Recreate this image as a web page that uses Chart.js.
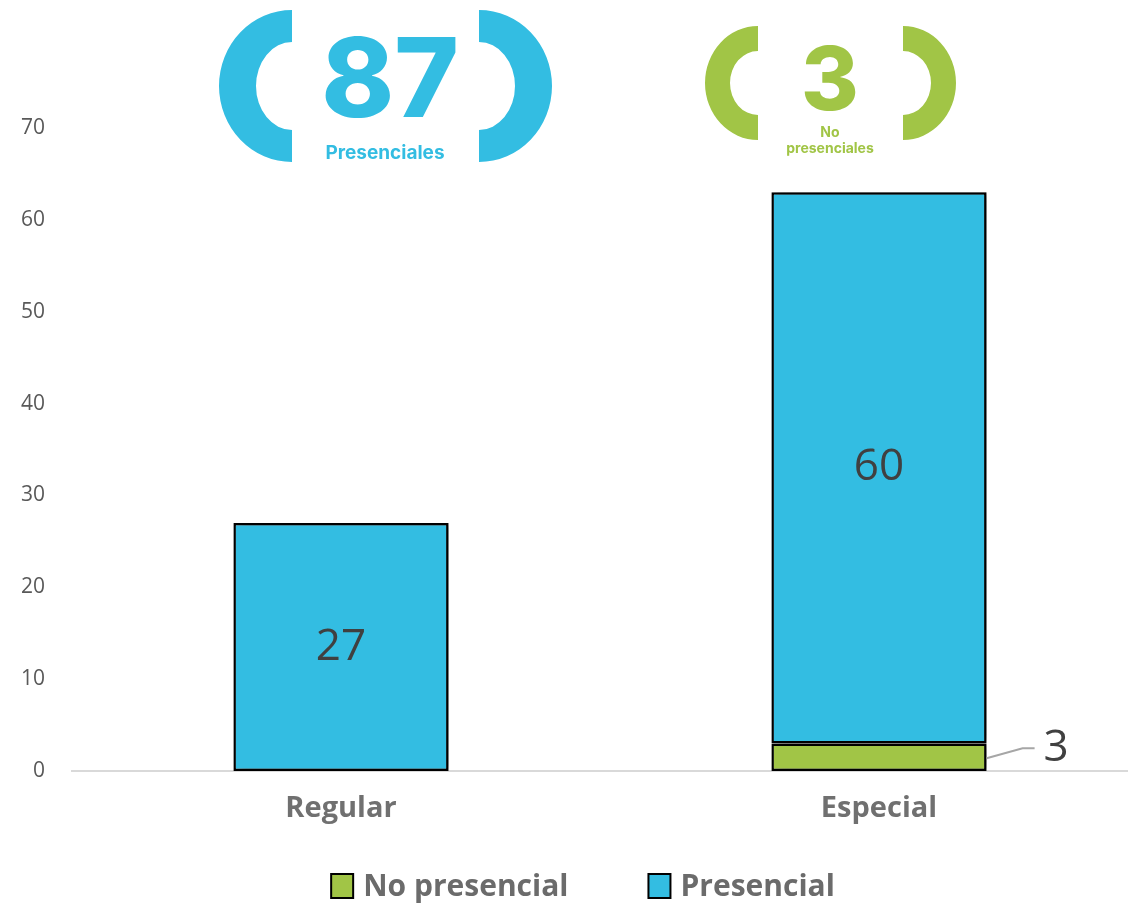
<!DOCTYPE html>
<html>
<head>
<meta charset="utf-8">
<script src="https://cdn.jsdelivr.net/npm/chart.js@4"></script>
<style>
  html, body { margin: 0; padding: 0; background: #fff; overflow: hidden; }
  #wrap { width: 1150px; height: 904px; }
</style>
</head>
<body>
<div id="wrap"><canvas id="bars"></canvas></div>
<script>
var categories = ["Regular", "Especial"];
var seriesNames = ["No presencial", "Presencial"];
var noPresencial = [0, 3];
var presencial = [27, 60];
var yMax = 70;
var yStep = 10;

var BLUE = "#33bde2";
var GREEN = "#a1c546";
var FONT = "'Open Sans', sans-serif";
var HEAVY = "Inter, 'Open Sans', sans-serif";

function sum(a) { return a.reduce(function (s, v) { return s + v; }, 0); }

// soft shadow to the right of each bar
var shadowPlugin = {
  id: "shadow",
  beforeDatasetDraw: function (chart) {
    var c = chart.ctx;
    c.save();
    c.shadowColor = "rgba(0,0,0,0.45)";
    c.shadowBlur = 8;
    c.shadowOffsetX = 6;
    c.shadowOffsetY = 0;
  },
  afterDatasetDraw: function (chart) {
    chart.ctx.restore();
  }
};

// value labels on bars
var labelPlugin = {
  id: "labels",
  afterDatasetsDraw: function (chart) {
    var c = chart.ctx;
    c.save();
    c.font = "44px " + FONT;
    c.fillStyle = "#404040";
    c.textBaseline = "middle";
    chart.data.datasets.forEach(function (ds, di) {
      var meta = chart.getDatasetMeta(di);
      meta.data.forEach(function (bar, i) {
        var v = ds.data[i];
        if (!v) return;
        var h = bar.base - bar.y;
        if (h > 50) {
          c.textAlign = "center";
          c.fillText(String(v), bar.x, (bar.y + bar.base) / 2);
        } else {
          var right = bar.x + bar.width / 2;
          var my = (bar.y + bar.base) / 2;
          c.strokeStyle = "#a6a6a6";
          c.lineWidth = 2;
          c.beginPath();
          c.moveTo(right, my + 1);
          c.lineTo(right + 36, my - 9);
          c.lineTo(right + 48, my - 9);
          c.stroke();
          c.textAlign = "left";
          c.fillText(String(v), right + 57, my - 9);
        }
      });
    });
    c.restore();
  }
};

// summary badges and legend
function badge(c, color, cy, leftEdge, rightEdge, oRx, oRy, iRx, iRy) {
  c.fillStyle = color;
  c.beginPath();
  c.ellipse(leftEdge, cy, oRx, oRy, 0, Math.PI / 2, Math.PI * 1.5);
  c.ellipse(leftEdge, cy, iRx, iRy, 0, Math.PI * 1.5, Math.PI / 2, true);
  c.closePath();
  c.fill();
  c.beginPath();
  c.ellipse(rightEdge, cy, oRx, oRy, 0, -Math.PI / 2, Math.PI / 2);
  c.ellipse(rightEdge, cy, iRx, iRy, 0, Math.PI / 2, -Math.PI / 2, true);
  c.closePath();
  c.fill();
}

var decorPlugin = {
  id: "decor",
  afterDraw: function (chart) {
    var c = chart.ctx;
    c.save();
    c.textAlign = "center";
    c.textBaseline = "alphabetic";

    badge(c, BLUE, 86, 292, 479, 73, 76, 36, 44);
    c.fillStyle = BLUE;
    c.font = "800 110px " + HEAVY;
    c.fillText(String(sum(presencial)), 390, 117);
    c.font = "bold 19px " + HEAVY;
    c.fillText("Presenciales", 385, 159);

    badge(c, GREEN, 83, 758, 903, 53, 57, 28, 32);
    c.fillStyle = GREEN;
    c.font = "800 88px " + HEAVY;
    c.fillText(String(sum(noPresencial)), 830, 110);
    c.font = "bold 14px " + HEAVY;
    c.fillText("No", 830, 137);
    c.fillText("presenciales", 830, 153);

    // legend
    var ds = chart.data.datasets;
    c.font = "bold 30px " + FONT;
    var box = 22, gapText = 10, gapItem = 80;
    var widths = ds.map(function (d) { return box + gapText + c.measureText(d.label).width; });
    var total = sum(widths) + gapItem * (ds.length - 1);
    var x = 583 - total / 2;
    var y = 886;
    c.textAlign = "left";
    c.textBaseline = "middle";
    ds.forEach(function (d, i) {
      c.fillStyle = d.backgroundColor;
      c.fillRect(x, y - 12, box, 24);
      c.strokeStyle = "#000";
      c.lineWidth = 2;
      c.strokeRect(x, y - 12, box, 24);
      c.fillStyle = "#6b6b6b";
      c.fillText(d.label, x + box + gapText, y + 1);
      x += widths[i] + gapItem;
    });
    c.restore();
  }
};

function bw(ctx) { return ctx.raw === 0 ? 0 : 2.5; }

new Chart(document.getElementById("bars"), {
  type: "bar",
  data: {
    labels: categories,
    datasets: [
      {
        label: seriesNames[0],
        data: noPresencial,
        backgroundColor: GREEN,
        borderColor: "#000",
        borderWidth: bw,
        borderSkipped: false,
        barPercentage: 0.4,
        categoryPercentage: 1
      },
      {
        label: seriesNames[1],
        data: presencial,
        backgroundColor: BLUE,
        borderColor: "#000",
        borderWidth: bw,
        borderSkipped: false,
        barPercentage: 0.4,
        categoryPercentage: 1
      }
    ]
  },
  options: {
    responsive: true,
    maintainAspectRatio: false,
    animation: false,
    layout: { padding: { top: 128, right: 2, left: 0, bottom: 0 } },
    plugins: {
      legend: { display: false },
      tooltip: { enabled: false }
    },
    scales: {
      x: {
        stacked: true,
        grid: { display: false, drawTicks: false },
        border: { display: true, color: "#d9d9d9", width: 2 },
        ticks: {
          color: "#707070",
          font: { family: FONT, size: 29, weight: "bold" },
          padding: 20
        },
        afterFit: function (s) { s.height = 133; }
      },
      y: {
        stacked: true,
        min: 0,
        max: yMax,
        grid: { display: false, drawTicks: false },
        border: { display: false },
        ticks: {
          stepSize: yStep,
          color: "#595959",
          font: { family: FONT, size: 21 },
          padding: 27
        },
        afterFit: function (s) { s.width = 72; }
      }
    }
  },
  plugins: [shadowPlugin, labelPlugin, decorPlugin]
});
</script>
</body>
</html>
